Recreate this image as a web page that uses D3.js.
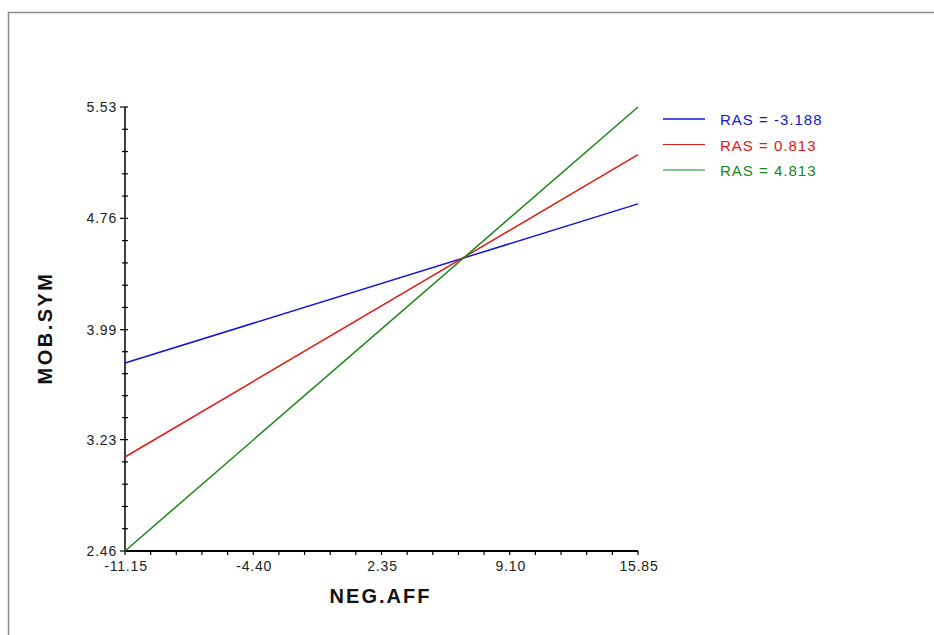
<!DOCTYPE html>
<html>
<head>
<meta charset="utf-8">
<script src="https://cdn.jsdelivr.net/npm/d3@7"></script>
<style>
body{margin:0;background:#fff;}
svg{display:block;font-family:Arial,"Liberation Sans",sans-serif;}
</style>
</head>
<body>
<div id="chart"></div>
<script>

/* data */
const xEnds = [-11.15, 15.85];
const xTicks = [-11.15, -4.40, 2.35, 9.10, 15.85];
const yTicks = [2.46, 3.23, 3.99, 4.76, 5.53];
const seriesNames = ["RAS = -3.188", "RAS = 0.813", "RAS = 4.813"];
const seriesColors = ["#1414d8", "#e01818", "#1a861a"];
const blueVals = [3.76, 4.86];
const redVals = [3.11, 5.20];
const greenVals = [2.46, 5.53];

const W = 934, H = 635;
const margin = {left:125, top:107, right:296, bottom:84};

const svg = d3.select("#chart")
.append("svg")
.attr("width", W)
.attr("height", H);

// frame
svg.append("path")
.attr("d", "M8.5," + H + "V12.5H" + W)
.attr("fill", "none")
.attr("stroke", "#8c8c8c")
.attr("stroke-width", 1.5);

const x = d3.scaleLinear()
.domain([xEnds[0], xEnds[1]])
.range([margin.left, W - margin.right]);

const y = d3.scaleLinear()
.domain([yTicks[0], yTicks[yTicks.length-1]])
.range([H - margin.bottom, margin.top]);

// minor tick positions (5 steps between majors)
function minors(ticks){
const out = [];
for(let i=0;i<ticks.length-1;i++){
for(let k=1;k<5;k++){
out.push(ticks[i] + (ticks[i+1]-ticks[i])*k/5);
}
}
return out;
}

// x axis
const xAxis = svg.append("g")
.attr("transform", "translate(0," + y.range()[0] + ")");

xAxis.append("line")
.attr("x1", x.range()[0]).attr("x2", x.range()[1])
.attr("stroke", "#000").attr("stroke-width", 2);

xAxis.selectAll(".xt")
.data(xTicks.concat(minors(xTicks)))
.enter()
.append("line")
.attr("x1", d => x(d)).attr("x2", d => x(d))
.attr("y1", 0).attr("y2", 4)
.attr("stroke", "#000").attr("stroke-width", 1.2);

xAxis.selectAll("text")
.data(xTicks)
.enter()
.append("text")
.attr("x", d => x(d) + 1)
.attr("y", 20)
.attr("text-anchor", "middle")
.attr("font-size", 14)
.attr("letter-spacing", 0.8)
.attr("fill", "#222")
.text(d => d.toFixed(2));

// y axis
const yAxis = svg.append("g")
.attr("transform", "translate(" + x.range()[0] + ",0)");

yAxis.append("line")
.attr("y1", y.range()[0]).attr("y2", y.range()[1])
.attr("stroke", "#000").attr("stroke-width", 1.5);

yAxis.selectAll(".ymaj")
.data(yTicks)
.enter()
.append("line")
.attr("x1", -5).attr("x2", 3)
.attr("y1", d => y(d)).attr("y2", d => y(d))
.attr("stroke", "#000").attr("stroke-width", 1.2);

yAxis.selectAll(".ymin")
.data(minors(yTicks))
.enter()
.append("line")
.attr("x1", -3).attr("x2", 3)
.attr("y1", d => y(d)).attr("y2", d => y(d))
.attr("stroke", "#000").attr("stroke-width", 1.2);

yAxis.selectAll("text")
.data(yTicks)
.enter()
.append("text")
.attr("x", -8)
.attr("y", d => y(d) + 5)
.attr("text-anchor", "end")
.attr("font-size", 14)
.attr("letter-spacing", 0.8)
.attr("fill", "#222")
.text(d => d.toFixed(2));

// axis titles
svg.append("text")
.attr("x", (x.range()[0] + x.range()[1]) / 2 - 1)
.attr("y", 603)
.attr("text-anchor", "middle")
.attr("font-size", 20)
.attr("letter-spacing", 2)
.attr("font-weight", "bold")
.attr("fill", "#111")
.text("NEG.AFF");

svg.append("text")
.attr("transform", "translate(52," + ((y.range()[0] + y.range()[1]) / 2 - 1) + ") rotate(-90)")
.attr("text-anchor", "middle")
.attr("font-size", 20)
.attr("letter-spacing", 2.5)
.attr("font-weight", "bold")
.attr("fill", "#111")
.text("MOB.SYM");

// lines
const series = [blueVals, redVals, greenVals];

const line = d3.line()
.x((d, i) => x(xEnds[i]))
.y(d => y(d));

svg.selectAll(".series")
.data(series)
.enter()
.append("path")
.attr("d", d => line(d))
.attr("fill", "none")
.attr("stroke", (d, i) => seriesColors[i])
.attr("stroke-width", 1.5);

// legend
const legend = svg.append("g")
.attr("transform", "translate(663,119)");

const item = legend.selectAll("g")
.data(seriesNames)
.enter()
.append("g")
.attr("transform", (d, i) => "translate(0," + (i * 25.5) + ")");

item.append("line")
.attr("x1", 0).attr("x2", 42)
.attr("stroke", (d, i) => seriesColors[i])
.attr("stroke-width", (d, i) => i === 0 ? 1.5 : 1.1);

item.append("text")
.attr("x", 57)
.attr("y", 6)
.attr("font-size", 15)
.attr("letter-spacing", 1)
.attr("fill", (d, i) => seriesColors[i])
.text(d => d);

</script>
</body>
</html>
